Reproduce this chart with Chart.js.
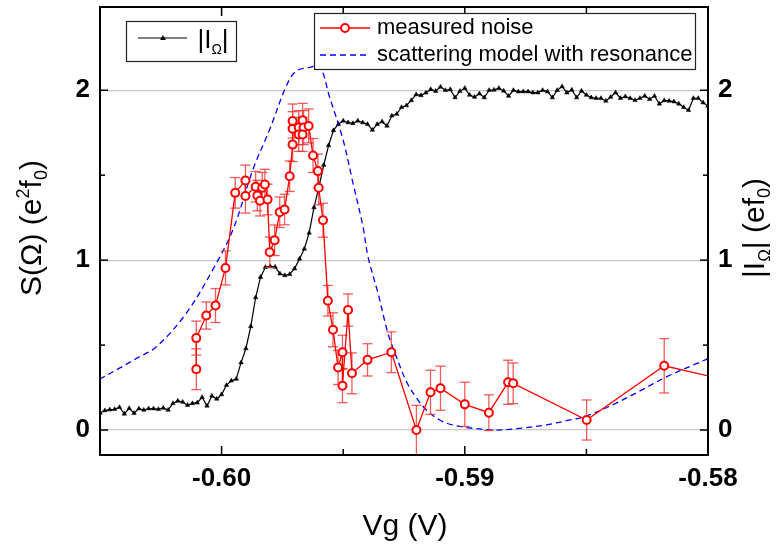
<!DOCTYPE html>
<html>
<head>
<meta charset="utf-8">
<script src="https://cdn.jsdelivr.net/npm/chart.js@4.4.1/dist/chart.umd.min.js"></script>
<style>
  html, body { margin: 0; padding: 0; background: #fff; }
  canvas { display: block; }
</style>
</head>
<body>
<canvas id="noiseChart" width="781" height="547"></canvas>
<script>
// measured noise S(Ω) with error bars
const noiseVg = [-0.60104, -0.60104, -0.60063, -0.60025, -0.59984, -0.59944, -0.59902, -0.59902, -0.5986, -0.59853,
  -0.59842, -0.59833, -0.59822, -0.59811, -0.59802, -0.59782, -0.59761, -0.59741, -0.5972, -0.59708,
  -0.59708, -0.59708, -0.59683, -0.59683, -0.59667, -0.59663, -0.59667, -0.59642, -0.59624, -0.59604,
  -0.59601, -0.59583, -0.59563, -0.59542, -0.59521, -0.59503, -0.59503, -0.5948, -0.59464, -0.594,
  -0.59302, -0.59199, -0.59141, -0.591, -0.59, -0.58901, -0.58822, -0.58801, -0.58499, -0.5818, -0.5783];
const noiseS = [0.358, 0.541, 0.674, 0.733, 0.954, 1.396, 1.469, 1.377, 1.432, 1.38,
  1.35, 1.426, 1.445, 1.357, 1.046, 1.117, 1.282, 1.298, 1.494, 1.68,
  1.774, 1.819, 1.78, 1.74, 1.823, 1.78, 1.74, 1.79, 1.616, 1.524,
  1.426, 1.235, 0.761, 0.59, 0.368, 0.458, 0.261, 0.706, 0.334, 0.413,
  0.458, 0.0, 0.222, 0.246, 0.151, 0.102, 0.281, 0.275, 0.059, 0.378, 0.263];
const noiseErr = [0.12, 0.10, 0.08, 0.10, 0.10, 0.09, 0.09, 0.10, 0.09, 0.09,
  0.09, 0.09, 0.09, 0.09, 0.09, 0.09, 0.09, 0.09, 0.09, 0.10,
  0.10, 0.10, 0.10, 0.10, 0.10, 0.10, 0.10, 0.10, 0.10, 0.10,
  0.10, 0.10, 0.09, 0.10, 0.10, 0.10, 0.10, 0.095, 0.12, 0.095,
  0.12, 0.145, 0.13, 0.13, 0.13, 0.105, 0.13, 0.12, 0.118, 0.16, 0.15];

// scattering model with resonance
const modelVg = [-0.60502, -0.6042, -0.60351, -0.60268, -0.60145, -0.60036, -0.59953, -0.59871,
  -0.59802, -0.59734, -0.59693, -0.59638, -0.59597, -0.59556, -0.59501, -0.5946, -0.59419, -0.59398,
  -0.59357, -0.59316, -0.59281, -0.5924, -0.59199, -0.59158, -0.59103, -0.59048, -0.58966, -0.5887,
  -0.58774, -0.58664, -0.58582, -0.58499, -0.5839, -0.5828, -0.58169, -0.5806, -0.58];
const modelS = [0.299, 0.364, 0.421, 0.49, 0.688, 0.944, 1.18, 1.534,
  1.77, 2.025, 2.114, 2.134, 2.143, 1.96, 1.711, 1.455, 1.2, 1.02,
  0.806, 0.57, 0.43, 0.285, 0.19, 0.118, 0.059, 0.029, 0.01, 0.0,
  0.01, 0.03, 0.055, 0.083, 0.15, 0.23, 0.314, 0.383, 0.42];

// |I_Ω| (right axis)
const currentVg = [-0.6050, -0.6048, -0.6046, -0.6044, -0.6042, -0.6040, -0.6038, -0.6036, -0.6034, -0.6032,
  -0.6030, -0.6028, -0.6026, -0.6024, -0.6022, -0.6020, -0.6018, -0.6016, -0.6014, -0.6012,
  -0.6010, -0.6008, -0.6006, -0.6004, -0.6002, -0.6000, -0.5998, -0.5996, -0.5994, -0.5992,
  -0.5990, -0.5988, -0.5986, -0.5984, -0.5982, -0.5980, -0.5978, -0.5976, -0.5974, -0.5972,
  -0.5970, -0.5968, -0.5966, -0.5964, -0.5962, -0.5960, -0.5958, -0.5956, -0.5954, -0.5952,
  -0.5950, -0.5948, -0.5946, -0.5944, -0.5942, -0.5940, -0.5938, -0.5936, -0.5934, -0.5932,
  -0.5930, -0.5928, -0.5926, -0.5924, -0.5922, -0.5920, -0.5918, -0.5916, -0.5914, -0.5912,
  -0.5910, -0.5908, -0.5906, -0.5904, -0.5902, -0.5900, -0.5898, -0.5896, -0.5894, -0.5892,
  -0.5890, -0.5888, -0.5886, -0.5884, -0.5882, -0.5880, -0.5878, -0.5876, -0.5874, -0.5872,
  -0.5870, -0.5868, -0.5866, -0.5864, -0.5862, -0.5860, -0.5858, -0.5856, -0.5854, -0.5852,
  -0.5850, -0.5848, -0.5846, -0.5844, -0.5842, -0.5840, -0.5838, -0.5836, -0.5834, -0.5832,
  -0.5830, -0.5828, -0.5826, -0.5824, -0.5822, -0.5820, -0.5818, -0.5816, -0.5814, -0.5812,
  -0.5810, -0.5808, -0.5806, -0.5804, -0.5802, -0.5800];
const currentI = [0.10, 0.115, 0.12, 0.122, 0.134, 0.095, 0.128, 0.099, 0.126, 0.118,
  0.126, 0.126, 0.122, 0.13, 0.118, 0.157, 0.171, 0.165, 0.146, 0.157,
  0.161, 0.193, 0.142, 0.201, 0.183, 0.209, 0.264, 0.29, 0.30, 0.397,
  0.48, 0.61, 0.78, 0.90, 0.958, 0.963, 0.96, 0.92, 0.91, 0.917,
  0.95, 1.007, 1.066, 1.16, 1.31, 1.43, 1.56, 1.675, 1.764, 1.80,
  1.82, 1.81, 1.805, 1.82, 1.81, 1.80, 1.766, 1.80, 1.815, 1.79,
  1.85, 1.86, 1.90, 1.91, 1.94, 1.975, 1.97, 1.985, 2.005, 1.995,
  2.02, 2.0, 2.005, 1.957, 1.995, 2.012, 1.972, 1.96, 1.98, 1.957,
  2.0, 2.002, 2.012, 1.996, 1.966, 2.0, 1.992, 1.992, 1.992, 1.986,
  1.986, 2.0, 1.992, 1.957, 2.0, 2.022, 1.986, 2.002, 1.957, 1.996,
  1.972, 1.957, 1.953, 1.953, 1.937, 1.96, 1.986, 1.953, 1.963, 1.953,
  1.941, 1.953, 1.966, 1.947, 1.966, 1.92, 1.94, 1.937, 1.933, 1.92,
  1.90, 1.882, 1.953, 1.953, 1.927, 1.908];

// axes
const xTicks = [-0.6, -0.595, -0.59, -0.585, -0.58];
const yTicks = [0, 0.5, 1, 1.5, 2];
const xMin = -0.605, xMax = -0.58;
const yMin = -0.147, yMax = 2.49;

const FONT = '"Liberation Sans", Arial, sans-serif';
const isMajorX = v => Math.abs(v * 100 - Math.round(v * 100)) < 1e-6;

function line(ctx, x1, y1, x2, y2) {
  ctx.beginPath();
  ctx.moveTo(x1, y1);
  ctx.lineTo(x2, y2);
  ctx.stroke();
}

// draw text made of pieces (for sub/superscripts), centred on 0 along the baseline
function richText(ctx, pieces, baseline) {
  let w = 0;
  pieces.forEach(p => {
    ctx.font = p.size + 'px ' + FONT;
    p.w = ctx.measureText(p.t).width;
    w += p.w;
  });
  let x = -w / 2;
  ctx.textAlign = 'left';
  ctx.textBaseline = 'alphabetic';
  pieces.forEach(p => {
    ctx.font = p.size + 'px ' + FONT;
    ctx.fillText(p.t, x, baseline + (p.dy || 0));
    x += p.w;
  });
}

const errorBars = {
  id: 'errorBars',
  beforeDatasetDraw(chart, args) {
    if (args.index !== 0) return;
    const { ctx, chartArea: a, scales } = chart;
    ctx.save();
    ctx.beginPath();
    ctx.rect(a.left, a.top, a.right - a.left, a.bottom - a.top);
    ctx.clip();
    ctx.strokeStyle = 'rgba(238, 50, 50, 0.8)';
    ctx.lineWidth = 1.3;
    noiseVg.forEach((v, i) => {
      const px = scales.x.getPixelForValue(v);
      const top = scales.y.getPixelForValue(noiseS[i] + noiseErr[i]);
      const bot = scales.y.getPixelForValue(noiseS[i] - noiseErr[i]);
      line(ctx, px, top, px, bot);
      line(ctx, px - 5, top, px + 5, top);
      line(ctx, px - 5, bot, px + 5, bot);
    });
    ctx.restore();
  }
};

const decorations = {
  id: 'decorations',
  afterDraw(chart) {
    const { ctx, chartArea: a, scales } = chart;
    ctx.save();

    // frame + inward ticks
    ctx.strokeStyle = '#000';
    ctx.lineWidth = 2;
    ctx.strokeRect(a.left, a.top, a.right - a.left, a.bottom - a.top);
    ctx.lineWidth = 1.5;
    xTicks.forEach(v => {
      const px = scales.x.getPixelForValue(v);
      const len = isMajorX(v) ? 9 : 6;
      line(ctx, px, a.bottom, px, a.bottom - len);
      line(ctx, px, a.top, px, a.top + len);
    });
    yTicks.forEach(v => {
      const py = scales.y.getPixelForValue(v);
      const len = Number.isInteger(v) ? 8 : 5;
      line(ctx, a.left, py, a.left + len, py);
      line(ctx, a.right, py, a.right - len, py);
    });

    // legend 1
    ctx.fillStyle = '#fff';
    ctx.fillRect(126, 21, 110, 40);
    ctx.strokeStyle = '#222';
    ctx.lineWidth = 1.2;
    ctx.strokeRect(126.5, 21.5, 110, 40);
    ctx.strokeStyle = '#000';
    ctx.lineWidth = 1.2;
    line(ctx, 138, 38, 187, 38);
    ctx.fillStyle = '#000';
    ctx.beginPath();
    ctx.moveTo(163, 35);
    ctx.lineTo(166, 40);
    ctx.lineTo(160, 40);
    ctx.closePath();
    ctx.fill();
    ctx.save();
    ctx.translate(213, 0);
    richText(ctx, [
      { t: '|I', size: 26 },
      { t: 'Ω', size: 14, dy: 6 },
      { t: '|', size: 26 }
    ], 48);
    ctx.restore();

    // legend 2
    ctx.fillStyle = '#fff';
    ctx.fillRect(314, 13, 381, 56);
    ctx.strokeStyle = '#222';
    ctx.lineWidth = 1.2;
    ctx.strokeRect(314.5, 13.5, 381, 56);
    ctx.strokeStyle = '#ff0000';
    ctx.lineWidth = 1.3;
    line(ctx, 320, 28, 370, 28);
    ctx.fillStyle = '#fff';
    ctx.lineWidth = 2;
    ctx.beginPath();
    ctx.arc(345, 28, 4, 0, Math.PI * 2);
    ctx.fill();
    ctx.stroke();
    ctx.strokeStyle = '#0000ff';
    ctx.lineWidth = 1.3;
    ctx.setLineDash([6, 4]);
    line(ctx, 320, 55, 370, 55);
    ctx.setLineDash([]);
    ctx.fillStyle = '#000';
    ctx.font = '22px ' + FONT;
    ctx.textAlign = 'left';
    ctx.textBaseline = 'middle';
    ctx.fillText('measured noise', 377, 28);
    ctx.fillText('scattering model with resonance', 377, 55);

    // axis titles
    ctx.fillStyle = '#000';
    ctx.save();
    ctx.translate(405, 0);
    richText(ctx, [{ t: 'Vg (V)', size: 30 }], 535);
    ctx.restore();

    ctx.save();
    ctx.translate(30, 228);
    ctx.rotate(-Math.PI / 2);
    richText(ctx, [
      { t: 'S(Ω) (e', size: 30 },
      { t: '2', size: 18, dy: -12 },
      { t: 'f', size: 30 },
      { t: '0', size: 18, dy: 6 },
      { t: ')', size: 30 }
    ], 11);
    ctx.restore();

    ctx.save();
    ctx.translate(753, 228);
    ctx.rotate(-Math.PI / 2);
    richText(ctx, [
      { t: '|I', size: 30 },
      { t: 'Ω', size: 17, dy: 6 },
      { t: '| (ef', size: 30 },
      { t: '0', size: 18, dy: 6 },
      { t: ')', size: 30 }
    ], 11);
    ctx.restore();

    ctx.restore();
  }
};

const tickFont = { family: FONT, size: 26, weight: 'bold' };

// fixed axis boxes so the plot area matches the original frame
function fixY(width) {
  return s => { s.width = width; s.paddingTop = 0; s.paddingBottom = 0; };
}

new Chart(document.getElementById('noiseChart').getContext('2d'), {
  type: 'scatter',
  data: {
    datasets: [{
      label: 'measured noise',
      data: noiseVg.map((v, i) => ({ x: v, y: noiseS[i] })),
      showLine: true,
      borderColor: '#ff0000',
      borderWidth: 1.3,
      pointRadius: 4,
      pointBorderWidth: 2,
      pointBackgroundColor: '#ffffff',
      pointBorderColor: '#ff0000',
      yAxisID: 'y'
    }, {
      label: 'scattering model with resonance',
      data: modelVg.map((v, i) => ({ x: v, y: modelS[i] })),
      showLine: true,
      borderColor: '#0000ff',
      borderWidth: 1.3,
      borderDash: [6, 4],
      tension: 0.35,
      pointRadius: 0,
      yAxisID: 'y'
    }, {
      label: '|IΩ|',
      data: currentVg.map((v, i) => ({ x: v, y: currentI[i] })),
      showLine: true,
      borderColor: '#000000',
      borderWidth: 1.2,
      pointStyle: 'triangle',
      pointRadius: 2.6,
      pointBorderWidth: 0.5,
      pointBackgroundColor: '#000000',
      pointBorderColor: '#000000',
      yAxisID: 'y2'
    }]
  },
  options: {
    responsive: false,
    animation: false,
    events: [],
    layout: { padding: { top: 7, left: 0, right: 0, bottom: 0 } },
    plugins: {
      legend: { display: false },
      tooltip: { enabled: false }
    },
    scales: {
      x: {
        type: 'linear',
        min: xMin,
        max: xMax,
        afterBuildTicks: s => { s.ticks = xTicks.map(v => ({ value: v })); },
        afterFit: s => { s.height = 92; s.paddingLeft = 0; s.paddingRight = 0; },
        grid: { display: false, drawTicks: false },
        border: { display: false },
        ticks: {
          font: tickFont,
          color: '#000',
          padding: 8,
          maxRotation: 0,
          autoSkip: false,
          callback: v => isMajorX(v) ? v.toFixed(2) : ''
        }
      },
      y: {
        position: 'left',
        min: yMin,
        max: yMax,
        afterBuildTicks: s => { s.ticks = yTicks.map(v => ({ value: v })); },
        afterFit: fixY(100),
        grid: {
          drawTicks: false,
          lineWidth: 1.2,
          color: c => Number.isInteger(c.tick.value) ? '#c8c8c8' : 'rgba(0,0,0,0)'
        },
        border: { display: false },
        ticks: {
          font: tickFont,
          color: '#000',
          padding: 10,
          callback: v => Number.isInteger(v) ? String(v) : ''
        }
      },
      y2: {
        position: 'right',
        min: yMin,
        max: yMax,
        afterBuildTicks: s => { s.ticks = yTicks.map(v => ({ value: v })); },
        afterFit: fixY(73),
        grid: { display: false, drawTicks: false },
        border: { display: false },
        ticks: {
          font: tickFont,
          color: '#000',
          padding: 10,
          callback: v => Number.isInteger(v) ? String(v) : ''
        }
      }
    }
  },
  plugins: [errorBars, decorations]
});
</script>
</body>
</html>
